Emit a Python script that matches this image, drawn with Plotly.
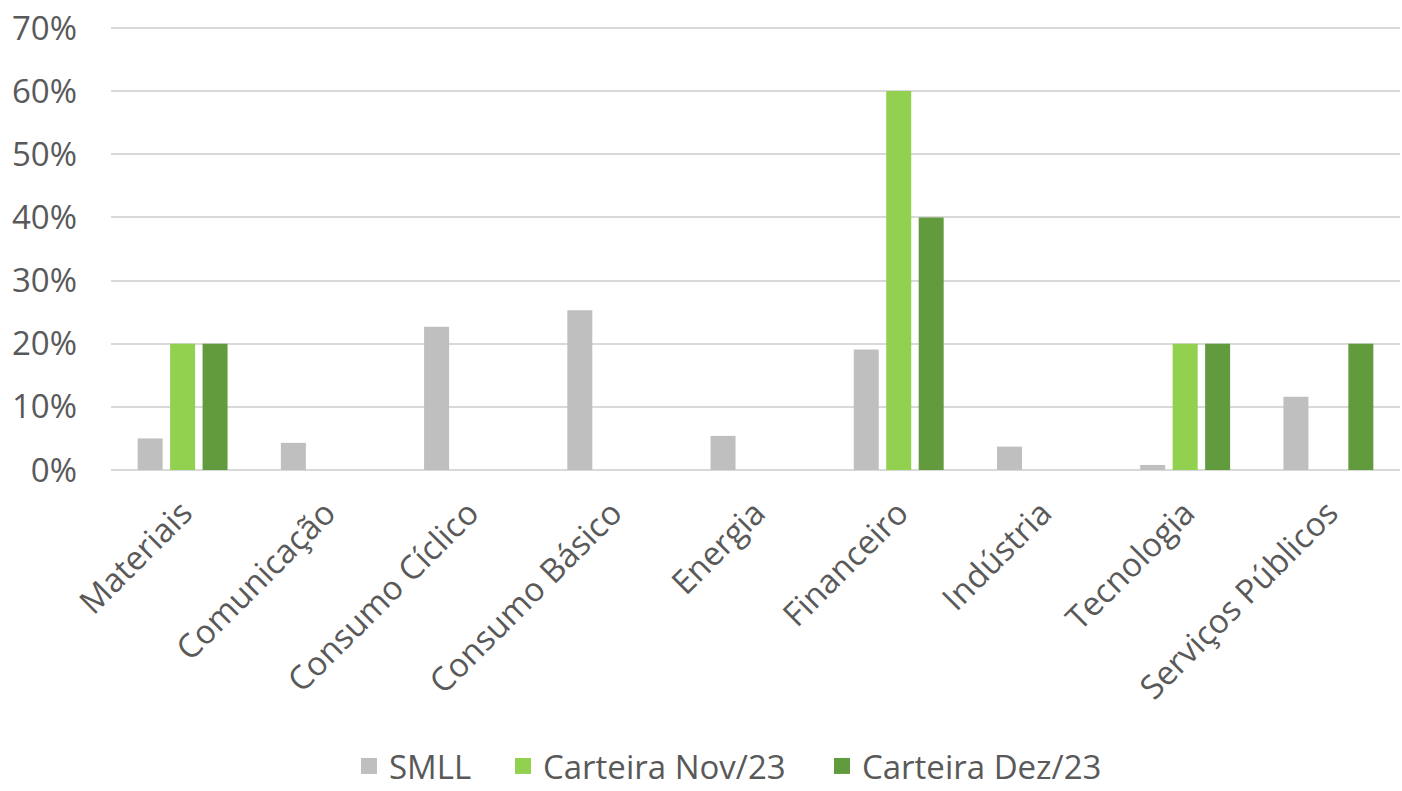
import plotly.graph_objects as go

categories = ["Materiais", "Comunicação", "Consumo Cíclico", "Consumo Básico", "Energia",
              "Financeiro", "Indústria", "Tecnologia", "Serviços Públicos"]
smll = [0.050, 0.043, 0.227, 0.253, 0.054, 0.191, 0.037, 0.008, 0.116]
nov23 = [0.20, 0.0, 0.0, 0.0, 0.0, 0.60, 0.0, 0.20, 0.0]
dez23 = [0.20, 0.0, 0.0, 0.0, 0.0, 0.40, 0.0, 0.20, 0.20]
series_names = ["SMLL", "Carteira Nov/23", "Carteira Dez/23"]
colors = ["#BFBFBF", "#92D050", "#629A3E"]
y_ticks = [0, 0.1, 0.2, 0.3, 0.4, 0.5, 0.6, 0.7]

FONT = "Open Sans"
TXT = "#595959"

W, H = 1402, 791
L, R, B = 111, 2, 321
YMAX = 0.73
plot_h = (470 - 28) / 0.7 * YMAX
T = int(round(H - B - plot_h))

legend_ids = ["legend", "legend2", "legend3"]
legend_px = [349, 503, 822]  # left edge of each legend entry, px
legend_py = 766

fig = go.Figure()
for name, vals, col in zip(series_names, [smll, nov23, dez23], colors):
    fig.add_trace(go.Bar(x=categories, y=vals, name=name, showlegend=False,
                         marker=dict(color=col, line=dict(width=0))))
for name, col, lid in zip(series_names, colors, legend_ids):
    fig.add_trace(go.Scatter(x=[None], y=[None], mode="markers", name=name, legend=lid,
                             marker=dict(symbol="square", size=16, color=col), showlegend=True))

pw = W - L - R
ph = H - T - B
legend_layout = {}
for lid, px in zip(legend_ids, legend_px):
    legend_layout[lid] = dict(orientation="h", x=(px - L) / pw, xanchor="left",
                              y=(H - B - legend_py) / ph, yanchor="middle",
                              font=dict(size=33, color=TXT, family=FONT),
                              itemsizing="trace", bgcolor="rgba(0,0,0,0)", borderwidth=0)

fig.update_layout(
    width=W, height=H,
    paper_bgcolor="white", plot_bgcolor="white",
    margin=dict(l=L, r=R, t=T, b=B, autoexpand=False, pad=0),
    barmode="group", bargap=0.32, bargroupgap=0.23,
    font=dict(family=FONT, color=TXT, size=33),
    showlegend=True,
    **legend_layout,
)
fig.update_yaxes(range=[0, YMAX], tickvals=y_ticks, tickformat=".0%",
                 showgrid=True, gridcolor="#D9D9D9", gridwidth=2, automargin=False,
                 zeroline=True, zerolinecolor="#D9D9D9", zerolinewidth=2,
                 showline=False, ticks="", ticklabelstandoff=33, ticklabeloverflow="allow",
                 tickfont=dict(size=33, color=TXT, family=FONT))
fig.update_xaxes(tickangle=-45, showline=False, ticks="", showgrid=False, automargin=False,
                 ticklabelstandoff=16, ticklabeloverflow="allow",
                 tickfont=dict(size=33, color=TXT, family=FONT))

fig.write_html("out.html", config={"displayModeBar": False},
               post_script="document.body.style.margin='0';document.body.style.overflow='hidden';")
